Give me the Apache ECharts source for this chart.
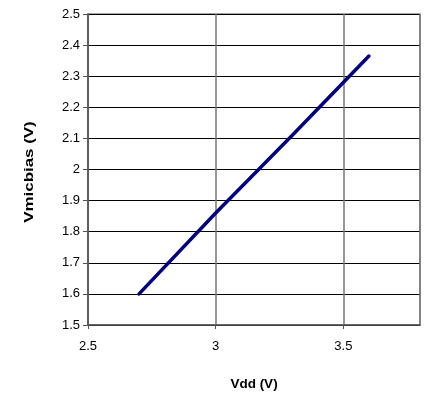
<!DOCTYPE html>
<html><head><meta charset="utf-8">
<script src="https://cdn.jsdelivr.net/npm/echarts@6/dist/echarts.min.js"></script>
<style>html,body{margin:0;padding:0;background:#fff}#c{width:425px;height:397px}</style>
</head><body><div id="c"></div>
<script>
var vdd = [2.7, 3.0, 3.3, 3.6];
var vmicbias = [1.6, 1.86, 2.11, 2.365];
var xTitle = 'Vdd (V)';
var yTitle = 'Vmicbias (V)';

var chart = echarts.init(document.getElementById('c'), null, {renderer:'canvas'});
var font = 'Liberation Sans, Arial, sans-serif';
chart.setOption({
  animation:false,
  grid:{left:88, right:5, top:14, bottom:72, show:true, borderColor:'#888', borderWidth:1.5},
  graphic:[{
    type:'text', x:29, y:172, rotation:Math.PI/2, scaleX:1.3,
    style:{text:yTitle, font:'bold 13px ' + font, fill:'#000', textAlign:'center', textVerticalAlign:'middle'}
  }],
  xAxis:{
    type:'value', min:2.5, max:3.8, interval:0.5,
    name:xTitle, nameLocation:'middle', nameGap:52,
    nameTextStyle:{fontFamily:font, fontWeight:'bold', fontSize:13.5, color:'#000'},
    axisLine:{onZero:false, lineStyle:{color:'#555', width:1.5}},
    axisTick:{show:true, length:4, lineStyle:{color:'#555'}},
    axisLabel:{showMaxLabel:false, fontFamily:font, fontSize:13, color:'#000', margin:15},
    splitLine:{show:true, lineStyle:{color:'#777', width:1.5}}
  },
  yAxis:{
    type:'value', min:1.5, max:2.5, interval:0.1,
    axisLine:{onZero:false, lineStyle:{color:'#555', width:1.5}},
    axisTick:{show:true, length:5, lineStyle:{color:'#555'}},
    axisLabel:{fontFamily:font, fontSize:13, color:'#000', margin:8,
      formatter:function(v){return String(Math.round(v*10)/10);}},
    splitLine:{show:true, lineStyle:{color:'#000', width:1}}
  },
  series:[{
    type:'line', data:vdd.map(function(x,i){return [x, vmicbias[i]];}),
    showSymbol:false, symbol:'none',
    lineStyle:{color:'#000080', width:3.5, cap:'round'}
  }]
});
</script></body></html>
